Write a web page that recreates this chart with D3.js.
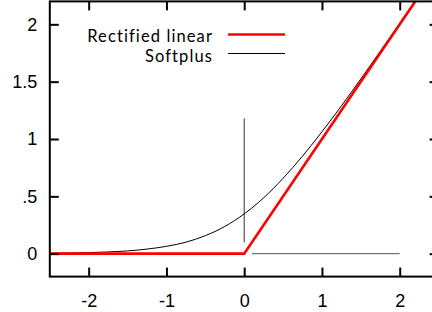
<!DOCTYPE html>
<html>
<head>
<meta charset="utf-8">
<script src="https://cdn.jsdelivr.net/npm/d3@7"></script>
<style>
  body { margin: 0; background: #fff; }
  svg { display: block; }
</style>
</head>
<body>
<svg id="chart" width="432" height="312"></svg>
<script>
// Curves
const relu_x = [-2.5, 0, 2.5];
const relu_y = [0, 0, 2.5];

const soft_x = [-2.5, -2.25, -2, -1.75, -1.5, -1.25, -1, -0.75, -0.5, -0.25, 0, 0.25, 0.5, 0.75, 1, 1.25, 1.5, 1.75, 2, 2.25, 2.5];
const soft_y = [0.003, 0.005, 0.009, 0.015, 0.024, 0.04, 0.064, 0.1, 0.157, 0.237, 0.347, 0.487, 0.657, 0.851, 1.063, 1.289, 1.524, 1.765, 2.009, 2.255, 2.503];

// Tick labels
const x_ticks = [-2, -1, 0, 1, 2];
const x_labels = ['-2', '-1', '0', '1', '2'];
const y_ticks = [0, 0.5, 1, 1.5, 2];
const y_labels = ['0', '.5', '1', '1.5', '2'];

// Legend
const legend_names = ['Rectified linear', 'Softplus'];
const legend_colors = ['#ff0000', '#000000'];
const legend_widths = [2.6, 1];

// Zero axis segments drawn by the plotting program
const zero_h = [0.1, 2];
const zero_v = [0.1, 1.18];

const svg = d3.select('#chart');
const margin = { left: 49.8, top: 1.4, right: 438.6, bottom: 276.6 };

const x = d3.scaleLinear().domain([-2.5, 2.5]).range([margin.left, margin.right]);
const y = d3.scaleLinear().domain([-0.2, 2.2]).range([margin.bottom, margin.top]);

svg.append('clipPath').attr('id', 'clip')
  .append('rect')
  .attr('x', margin.left).attr('y', margin.top)
  .attr('width', margin.right - margin.left)
  .attr('height', margin.bottom - margin.top);

const plot = svg.append('g').attr('clip-path', 'url(#clip)');

// Zero axes
plot.append('line')
  .attr('x1', x(zero_h[0])).attr('x2', x(zero_h[1]))
  .attr('y1', y(0)).attr('y2', y(0))
  .attr('stroke', '#555').attr('stroke-width', 1);
plot.append('line')
  .attr('x1', x(0)).attr('x2', x(0))
  .attr('y1', y(zero_v[0])).attr('y2', y(zero_v[1]))
  .attr('stroke', '#333').attr('stroke-width', 1);

// Softplus
const soft_line = d3.line()
  .x((d, i) => x(soft_x[i]))
  .y((d) => y(d))
  .curve(d3.curveMonotoneX);
plot.append('path')
  .attr('d', soft_line(soft_y))
  .attr('fill', 'none')
  .attr('stroke', '#000')
  .attr('stroke-width', 1);

// Rectified linear
const relu_line = d3.line()
  .x((d, i) => x(relu_x[i]))
  .y((d) => y(d));
plot.append('path')
  .attr('d', relu_line(relu_y))
  .attr('fill', 'none')
  .attr('stroke', '#ff0000')
  .attr('stroke-width', 2.6);

// Axes
const tick_font = '18px "Liberation Sans", Arial, sans-serif';

const ax_bottom = svg.append('g')
  .attr('transform', `translate(0,${margin.bottom})`)
  .call(d3.axisBottom(x).tickValues(x_ticks).tickFormat((d, i) => x_labels[i]).tickSizeInner(-9).tickSizeOuter(0).tickPadding(18));
const ax_top = svg.append('g')
  .attr('transform', `translate(0,${margin.top})`)
  .call(d3.axisTop(x).tickValues(x_ticks).tickFormat('').tickSizeInner(-9).tickSizeOuter(0));
const ax_left = svg.append('g')
  .attr('transform', `translate(${margin.left},0)`)
  .call(d3.axisLeft(y).tickValues(y_ticks).tickFormat((d, i) => y_labels[i]).tickSizeInner(-9).tickSizeOuter(0).tickPadding(12.5));
const ax_right = svg.append('g')
  .attr('transform', `translate(${margin.right},0)`)
  .call(d3.axisRight(y).tickValues(y_ticks).tickFormat('').tickSizeInner(-9).tickSizeOuter(0));

[ax_bottom, ax_top, ax_left, ax_right].forEach((ax) => {
  ax.select('.domain').remove();
  ax.selectAll('.tick line').attr('stroke', '#000').attr('stroke-width', 2);
  ax.selectAll('.tick text').style('font', tick_font).attr('fill', '#000');
});

// Frame
svg.append('rect')
  .attr('x', margin.left).attr('y', margin.top)
  .attr('width', margin.right - margin.left)
  .attr('height', margin.bottom - margin.top)
  .attr('fill', 'none')
  .attr('stroke', '#000')
  .attr('stroke-width', 2);

// Legend
const legend = svg.append('g');
legend.selectAll('text')
  .data(legend_names)
  .enter()
  .append('text')
  .attr('x', 213)
  .attr('y', (d, i) => 41.5 + i * 20)
  .attr('text-anchor', 'end')
  .style('font', '16.5px Lato, sans-serif')
  .style('letter-spacing', '1.1px')
  .attr('fill', '#000')
  .text((d) => d);
legend.selectAll('line')
  .data(legend_names)
  .enter()
  .append('line')
  .attr('x1', 228).attr('x2', 285)
  .attr('y1', (d, i) => 34.5 + i * 19)
  .attr('y2', (d, i) => 34.5 + i * 19)
  .attr('stroke', (d, i) => legend_colors[i])
  .attr('stroke-width', (d, i) => legend_widths[i]);
</script>
</body>
</html>
